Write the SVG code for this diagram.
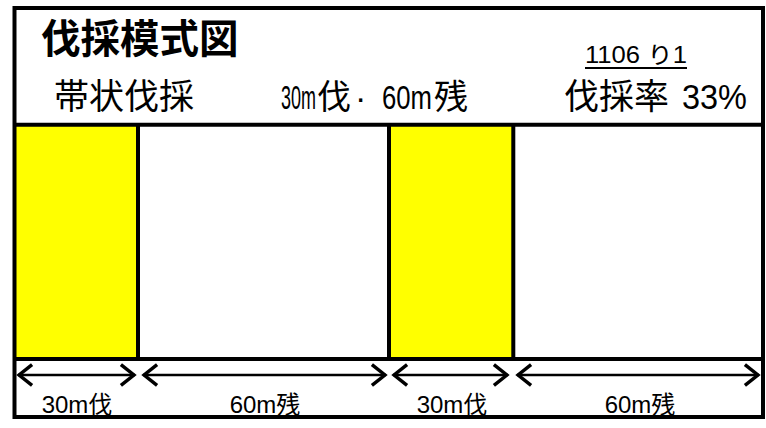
<svg xmlns="http://www.w3.org/2000/svg" width="766" height="428" viewBox="0 0 766 428">
<style>
.t{font-family:"Liberation Sans","Noto Sans CJK JP",sans-serif;fill:#000}
.ln{stroke:#000;stroke-width:4;fill:none}
.ar{stroke:#000;stroke-width:2.5;fill:none}
.y{fill:#ffff00}
</style>
<defs>
<marker id="ah" markerUnits="userSpaceOnUse" markerWidth="20" markerHeight="26" viewBox="-16 -12 18 24" refX="0" refY="0" orient="auto-start-reverse" overflow="visible">
<path d="M-13,-9.5 L-1,0 L-13,9.5" fill="none" stroke="#000" stroke-width="3.2"/>
</marker>
</defs>
<rect x="0" y="0" width="766" height="428" fill="#fff"/>
<g id="strips">
<rect id="strip1" class="y" x="16" y="126" width="121" height="232"/>
<rect id="strip2" class="y" x="390" y="126" width="122" height="232"/>
</g>
<g id="frame">
<rect class="ln" x="14.5" y="8" width="748.5" height="409"/>
<line class="ln" x1="14" y1="124.7" x2="763" y2="124.7"/>
<line class="ln" x1="14" y1="359" x2="763" y2="359"/>
<line class="ln" x1="138" y1="124" x2="138" y2="360"/>
<line class="ln" x1="389" y1="124" x2="389" y2="360"/>
<line class="ln" x1="513.3" y1="124" x2="513.3" y2="360"/>
</g>
<g id="header">
<text class="t" x="41" y="53" font-size="39.5" font-weight="bold">伐採模式図</text>
<text class="t" x="54" y="109" font-size="35">帯状伐採</text>
<text class="t" y="109" font-size="34"><tspan x="281" textLength="35" lengthAdjust="spacingAndGlyphs">30m</tspan><tspan x="317">伐</tspan><tspan x="355">·</tspan><tspan x="382" textLength="50" lengthAdjust="spacingAndGlyphs">60m</tspan><tspan x="434">残</tspan></text>
<text class="t" x="585" y="63" font-size="23" textLength="102" lengthAdjust="spacingAndGlyphs">1106 り1</text>
<line x1="585" y1="68" x2="687" y2="68" stroke="#000" stroke-width="2"/>
<text class="t" y="109" font-size="35"><tspan x="564">伐採率</tspan><tspan x="682" textLength="65" lengthAdjust="spacingAndGlyphs">33%</tspan></text>
</g>
<g id="connectors">
<line class="ar" x1="18" y1="375" x2="135" y2="375" marker-start="url(#ah)" marker-end="url(#ah)"/>
<line class="ar" x1="143" y1="375" x2="386" y2="375" marker-start="url(#ah)" marker-end="url(#ah)"/>
<line class="ar" x1="393" y1="375" x2="508" y2="375" marker-start="url(#ah)" marker-end="url(#ah)"/>
<line class="ar" x1="517" y1="375" x2="759" y2="375" marker-start="url(#ah)" marker-end="url(#ah)"/>
</g>
<g id="labels">
<text class="t" x="77" y="413" font-size="24" text-anchor="middle">30m伐</text>
<text class="t" x="265" y="413" font-size="24" text-anchor="middle">60m残</text>
<text class="t" x="452" y="413" font-size="24" text-anchor="middle">30m伐</text>
<text class="t" x="640" y="413" font-size="24" text-anchor="middle">60m残</text>
</g>
</svg>
